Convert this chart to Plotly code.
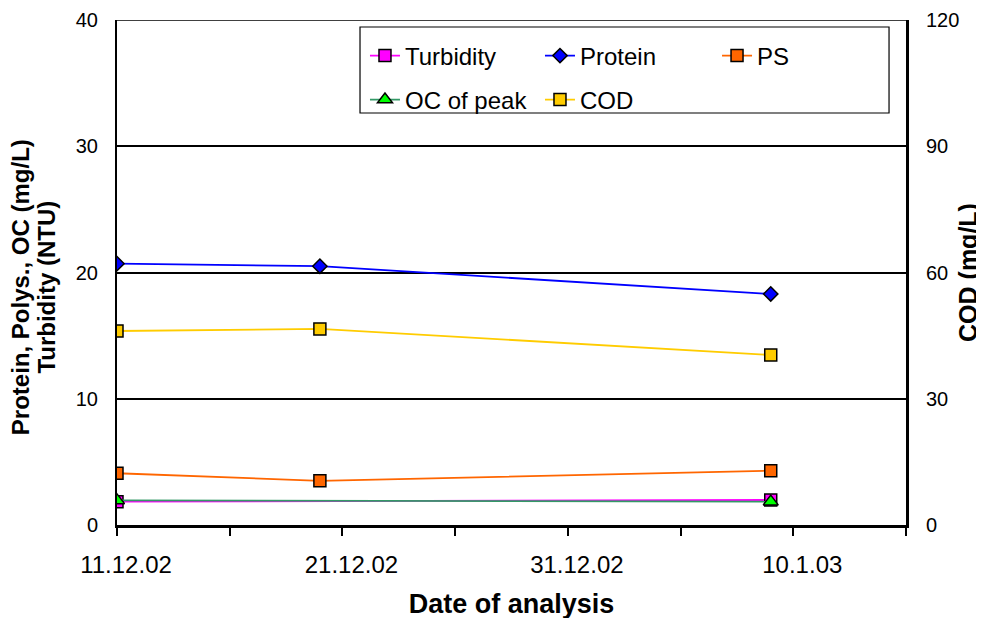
import plotly.graph_objects as go

# ---- data ----
dates_full = ["2002-12-11", "2002-12-20", "2003-01-09"]
dates_two = ["2002-12-11", "2003-01-09"]

turbidity = [1.85, 1.98]          # NTU (dates_two)
oc_peak = [1.95, 1.85]            # mg/L (dates_two)
protein = [20.7, 20.5, 18.3]      # mg/L
ps = [4.1, 3.5, 4.3]              # mg/L
cod = [46.1, 46.6, 40.4]          # mg/L (right axis)

x_tickvals = ["2002-12-11", "2002-12-21", "2002-12-31", "2003-01-10"]
x_ticktext = ["11.12.02", "21.12.02", "31.12.02", "10.1.03"]
y_tickvals = [0, 10, 20, 30, 40]
y2_tickvals = [0, 30, 60, 90, 120]

FONT = "Liberation Sans, Arial, sans-serif"

fig = go.Figure()

def add(name, x, y, color, mcolor, symbol, size, legend, yaxis="y"):
    fig.add_trace(go.Scatter(
        x=x, y=y, name=name, mode="lines+markers", yaxis=yaxis, legend=legend,
        line=dict(color=color, width=1.8),
        marker=dict(symbol=symbol, size=size, color=mcolor,
                    line=dict(color="black", width=1.5)),
    ))

add("Turbidity", dates_two, turbidity, "#FF00FF", "#FF00FF", "square", 12, "legend")
add("Protein", dates_full, protein, "#0000FF", "#0000FF", "diamond", 11, "legend2")
add("PS", dates_full, ps, "#FF6600", "#FF6600", "square", 12, "legend3")
add("OC of peak", dates_two, oc_peak, "#339966", "#00FF00", "triangle-up", 13, "legend4")
add("COD", dates_full, cod, "#FFCC00", "#FFCC00", "square", 12, "legend5", yaxis="y2")

def leg(x, y):
    return dict(x=x, y=y, xanchor="left", yanchor="middle", orientation="h",
                bgcolor="rgba(0,0,0,0)", borderwidth=0,
                font=dict(family=FONT, size=24, color="black"))

# the page body adds an 8px offset; margins compensate so the plot area
# lands at x 117..906, y 20..525 in the window
fig.update_layout(
    width=984, height=618,
    margin=dict(l=109, r=86, t=12, b=101, autoexpand=False),
    paper_bgcolor="white", plot_bgcolor="white",
    font=dict(family=FONT, color="black", size=20),
    showlegend=True,
    legend=leg(0.3143, 0.9287),
    legend2=leg(0.5361, 0.9287),
    legend3=leg(0.7605, 0.9287),
    legend4=leg(0.3143, 0.8416),
    legend5=leg(0.5361, 0.8416),
    xaxis=dict(
        type="date", range=["2002-12-11", "2003-01-15"], automargin=False,
        tickmode="array", tickvals=x_tickvals, ticktext=x_ticktext,
        ticks="outside", ticklen=8, tickcolor="black", tickwidth=1.5,
        minor=dict(ticks="outside", ticklen=8, tickcolor="black", tickwidth=1.5,
                   tick0="2002-12-11", dtick=5 * 86400000),
        showline=True, linecolor="black", linewidth=3,
        showgrid=False, zeroline=False,
        tickfont=dict(size=24), ticklabelstandoff=8, ticklabelshift=9,
        title=dict(text="<b>Date of analysis</b>", font=dict(family=FONT, size=27),
                   standoff=18),
    ),
    yaxis=dict(
        range=[0, 40], tickmode="array", tickvals=y_tickvals, automargin=False,
        showline=True, linecolor="black", linewidth=2,
        showgrid=True, gridcolor="black", gridwidth=1.5,
        zeroline=False, ticks="", ticklabelstandoff=13,
        tickfont=dict(size=20),
    ),
    yaxis2=dict(
        range=[0, 120], tickmode="array", tickvals=y2_tickvals, automargin=False,
        overlaying="y", side="right",
        showline=True, linecolor="black", linewidth=3,
        showgrid=False, zeroline=False, ticks="", ticklabelstandoff=13,
        tickfont=dict(size=20),
        title=dict(text="<b>COD (mg/L)</b>", font=dict(family=FONT, size=25), standoff=2),
    ),
    annotations=[
        dict(text="<b>Protein, Polys., OC (mg/L)</b>", textangle=-90,
             xref="paper", yref="paper", x=-0.1229, y=0.471,
             xanchor="center", yanchor="middle", showarrow=False,
             font=dict(family=FONT, size=24, color="black")),
        dict(text="<b>Turbidity (NTU)</b>", textangle=-90,
             xref="paper", yref="paper", x=-0.0894, y=0.471,
             xanchor="center", yanchor="middle", showarrow=False,
             font=dict(family=FONT, size=24, color="black")),
    ],
    shapes=[
        dict(type="line", xref="paper", yref="y", x0=0, x1=1, y0=40, y1=40,
             line=dict(color="black", width=1.5)),
        dict(type="rect", xref="paper", yref="paper", x0=0.308, x1=0.9785,
             y0=0.8158, y1=0.9861, fillcolor="white",
             line=dict(color="black", width=1.2), layer="above"),
    ],
)

fig.write_html("out.html")
